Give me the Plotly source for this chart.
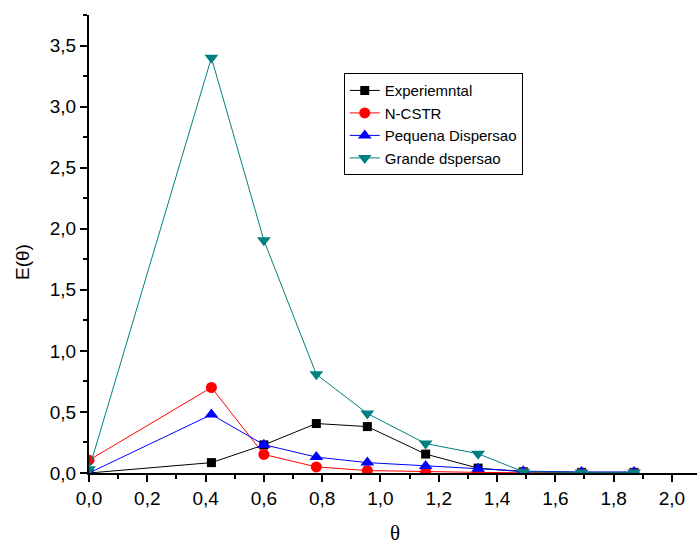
import plotly.graph_objects as go

# Dimensionless time points
theta = [0.0, 0.42, 0.60, 0.78, 0.955, 1.155, 1.335, 1.49, 1.69, 1.87]

# E(theta) curves
e_experimental = [0.0, 0.085, 0.23, 0.405, 0.38, 0.155, 0.04, 0.01, 0.005, 0.005]
e_ncstr = [0.105, 0.70, 0.152, 0.05, 0.02, 0.01, 0.005, 0.002, 0.001, 0.001]
e_pequena = [0.0, 0.478, 0.232, 0.13, 0.085, 0.057, 0.035, 0.015, 0.008, 0.008]
e_grande = [0.03, 3.40, 1.905, 0.808, 0.487, 0.241, 0.158, 0.01, 0.005, 0.005]

series_names = ["Experiemntal", "N-CSTR", "Pequena Dispersao", "Grande dspersao"]
series_values = [e_experimental, e_ncstr, e_pequena, e_grande]
colors = ["#000000", "#ff0000", "#0000ff", "#008080"]
symbols = ["square", "circle", "triangle-up", "triangle-down"]
sizes = [9, 11, 12, 12]

x_title = "θ"
y_title = "E(θ)"

fig = go.Figure()
for name, vals, col, sym, sz in zip(series_names, series_values, colors, symbols, sizes):
    fig.add_trace(go.Scatter(
        x=theta, y=vals, name=name, mode="lines+markers",
        line=dict(color=col, width=1),
        marker=dict(symbol=sym, size=sz, color=col, line=dict(width=0)),
    ))

axis_common = dict(
    showgrid=False, zeroline=False, showline=True, linecolor="black", linewidth=2,
    ticks="outside", ticklen=7, tickwidth=1.5, tickcolor="black",
    tickfont=dict(family="Arial", size=19, color="black"),
    tickformat=".1f", automargin=False,
)

fig.update_xaxes(
    range=[0, 2.086], dtick=0.2, tick0=0,
    minor=dict(ticks="outside", ticklen=4, tickwidth=1.5, tickcolor="black", dtick=0.1),
    **axis_common,
)
fig.update_yaxes(
    range=[0, 3.75], dtick=0.5, tick0=0,
    minor=dict(ticks="outside", ticklen=4, tickwidth=1.5, tickcolor="black", dtick=0.25),
    **axis_common,
)

# Axis titles placed as paper-anchored annotations
fig.add_annotation(
    text=x_title, xref="paper", yref="paper", x=0.5033, y=-0.1594,
    xanchor="center", yanchor="bottom", showarrow=False, borderpad=0,
    font=dict(family="Times New Roman, Liberation Serif, serif", size=21, color="black"),
)
fig.add_annotation(
    text=y_title, xref="paper", yref="paper", x=-0.1086, y=0.4607,
    xanchor="center", yanchor="middle", showarrow=False, textangle=-90,
    font=dict(family="Arial", size=19, color="black"),
)

fig.update_layout(
    width=697, height=546,
    margin=dict(l=89, r=0, t=15, b=73),
    paper_bgcolor="white", plot_bgcolor="white",
    separators=",.",
    font=dict(family="Arial", color="black"),
    legend=dict(
        x=0.419, y=0.873, xanchor="left", yanchor="top",
        bordercolor="black", borderwidth=1, bgcolor="white",
        font=dict(family="Arial", size=15, color="black"),
        itemwidth=30, tracegroupgap=0,
    ),
    showlegend=True,
)

fig.write_html("out.html")
